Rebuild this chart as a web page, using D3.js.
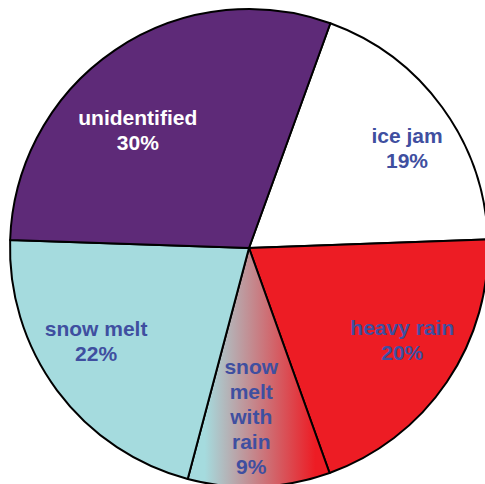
<!DOCTYPE html>
<html>
<head>
<meta charset="utf-8">
<script src="https://cdn.jsdelivr.net/npm/d3@7"></script>
<style>
  html, body { margin: 0; padding: 0; background: #ffffff; }
  svg { display: block; }
  text { font-family: "Liberation Sans", Arial, sans-serif; font-weight: bold; }
</style>
</head>
<body>
<svg id="chart" width="485" height="484"></svg>
<script>
// ---- data ----
const categories = ["ice jam", "heavy rain", "snow melt with rain", "snow melt", "unidentified"];
const shares = [18.9, 20.1, 9.6, 21.4, 30];          // slice sizes as drawn
const percentLabels = ["19%", "20%", "9%", "22%", "30%"];
const labelLines = [["ice jam"], ["heavy rain"], ["snow", "melt", "with", "rain"], ["snow melt"], ["unidentified"]];

// ---- layout / style ----
const W = 485, H = 484;
const cx = 249, cy = 248, R = 239;
const startDeg = 19.9;
const fills = ["#ffffff", "#ed1c24", "url(#smwr)", "#a5dbde", "#5e2a78"];
const textFill = ["#3f4fa0", "#3f4fa0", "#3f4fa0", "#3f4fa0", "#ffffff"];
const labelRadius = [183, 183, 176, 183, 157];
const labelAngleShift = [5.8, -1, 1.7, 3.3, -11]; // degrees
const fontSize = 21, lineH = 25;

const svg = d3.select("#chart");
const defs = svg.append("defs");
const grad = defs.append("linearGradient").attr("id", "smwr")
  .attr("x1", "0%").attr("x2", "100%").attr("y1", "0%").attr("y2", "0%");
grad.append("stop").attr("offset", "12%").attr("stop-color", "#a5dbde");
grad.append("stop").attr("offset", "90%").attr("stop-color", "#ed1c24");

const rad = d => d * Math.PI / 180;
const pie = d3.pie().sort(null).value(d => d)
  .startAngle(rad(startDeg)).endAngle(rad(startDeg + 360));
const arcs = pie(shares);
const arc = d3.arc().innerRadius(0).outerRadius(R);

const g = svg.append("g").attr("transform", `translate(${cx},${cy})`);
g.selectAll("path.slice").data(arcs).join("path")
  .attr("class", "slice")
  .attr("d", arc)
  .attr("fill", (d, i) => fills[i])
  .attr("stroke", "#000")
  .attr("stroke-width", 2)
  .attr("stroke-linejoin", "round");

arcs.forEach((a, i) => {
  const mid = (a.startAngle + a.endAngle) / 2 + rad(labelAngleShift[i]);
  const r = labelRadius[i];
  const x = Math.sin(mid) * r, y = -Math.cos(mid) * r;
  const lines = labelLines[i].concat([percentLabels[i]]);
  const t = g.append("text")
    .attr("text-anchor", "middle")
    .attr("font-size", fontSize)
    .attr("fill", textFill[i]);
  const top = y - (lines.length - 1) * lineH / 2;
  lines.forEach((ln, k) => {
    t.append("tspan").attr("x", x).attr("y", top + k * lineH).text(ln);
  });
});
</script>
</body>
</html>
